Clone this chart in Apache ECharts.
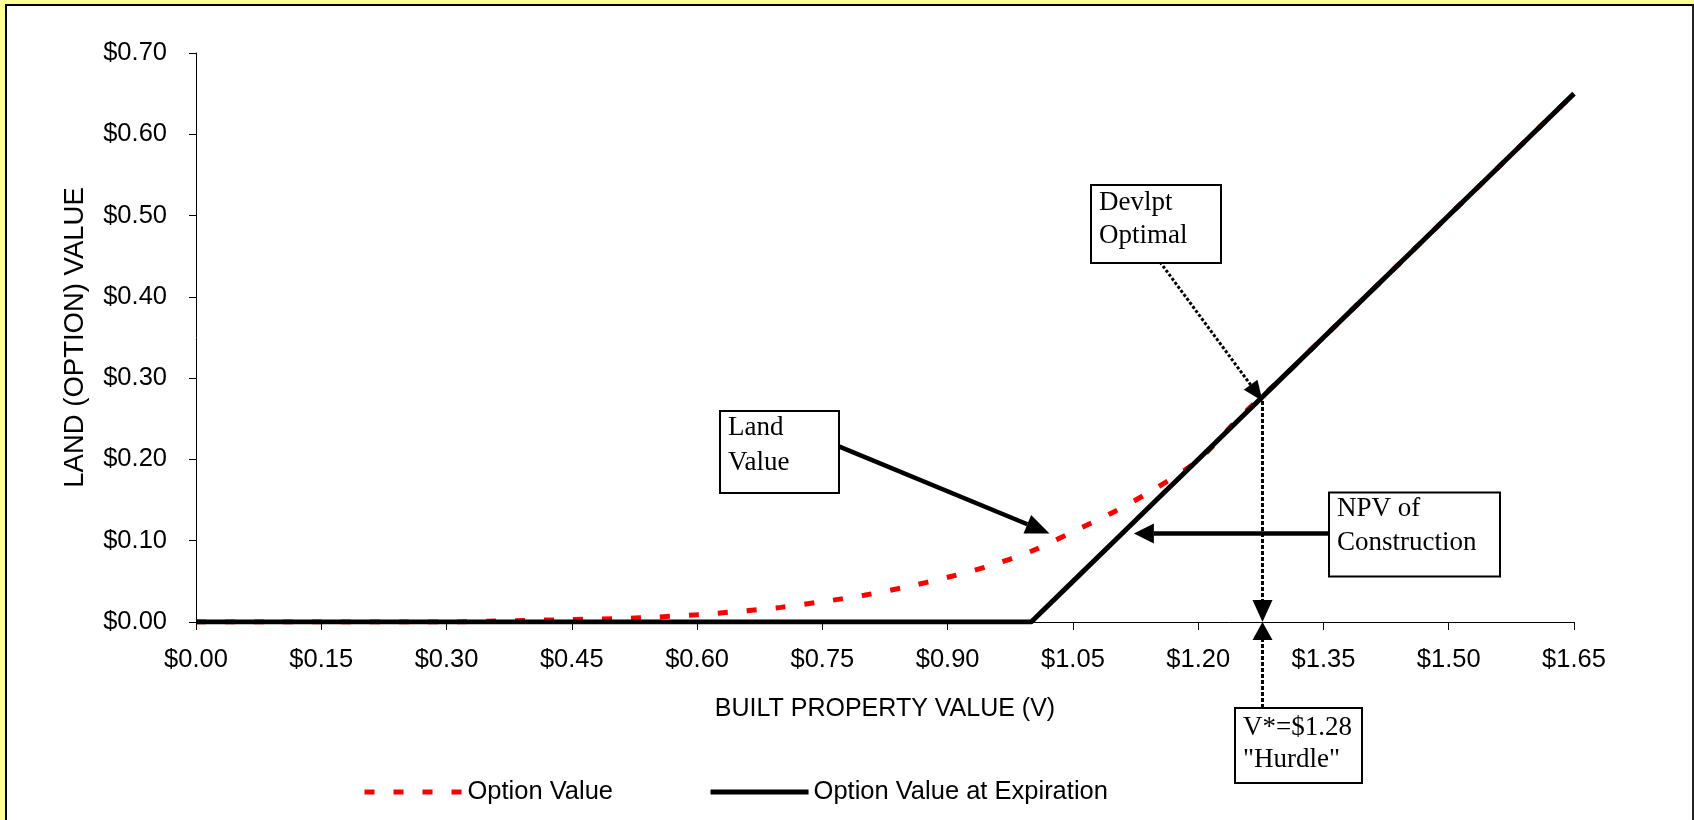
<!DOCTYPE html>
<html>
<head>
<meta charset="utf-8">
<script src="https://cdn.jsdelivr.net/npm/echarts@6/dist/echarts.min.js"></script>
<style>
  html, body { margin: 0; padding: 0; background: #FFFF99; overflow: hidden; }
  #panel { position: absolute; left: 5px; top: 4px; width: 1685px; height: 830px; background: #FFFFFF;
           border-left: 2px solid #000; border-top: 2px solid #000; border-right: 2px solid #222; }
  #c { position: absolute; left: 0; top: 0; width: 1694px; height: 820px; }
</style>
</head>
<body>
<div id="panel"></div>
<div id="c"></div>
<script>
// Built property value V (x axis)
const propertyValues = [0.00, 0.05, 0.10, 0.15, 0.20, 0.25, 0.30, 0.35, 0.40, 0.45, 0.50,
  0.55, 0.60, 0.65, 0.70, 0.75, 0.80, 0.85, 0.90, 0.95, 1.00, 1.05, 1.10, 1.15, 1.20,
  1.25, 1.30, 1.35, 1.40, 1.45, 1.50, 1.55, 1.60, 1.65];
// Option value (red dashed)
const optionValue = [0, 0, 0, 0, 0, 0, 0, 0.001, 0.002, 0.003, 0.004,
  0.006, 0.009, 0.013, 0.018, 0.025, 0.033, 0.043, 0.055, 0.069, 0.087, 0.111, 0.136, 0.165, 0.199,
  0.252, 0.300, 0.350, 0.400, 0.450, 0.500, 0.550, 0.600, 0.650];
// Option value at expiration (black solid)
const expirationValue = [0, 0, 0, 0, 0, 0, 0, 0, 0, 0, 0,
  0, 0, 0, 0, 0, 0, 0, 0, 0, 0, 0.05, 0.10, 0.15, 0.20,
  0.25, 0.30, 0.35, 0.40, 0.45, 0.50, 0.55, 0.60, 0.65];
const seriesNames = ['Option Value', 'Option Value at Expiration'];
const axisTitles = { x: 'BUILT PROPERTY VALUE (V)', y: 'LAND (OPTION) VALUE' };
// Annotation anchors in data coordinates
const hurdleV = 1.277;
const hurdleValue = 0.272;
const landTip = [1.022, 0.109];
const npvTip = [1.123, 0.109];

const SANS = "'Liberation Sans', Arial, sans-serif";
const SERIF = "'Liberation Serif', 'Times New Roman', serif";
const money = v => '$' + v.toFixed(2);

const chart = echarts.init(document.getElementById('c'), null, { renderer: 'canvas' });

const option = {
  backgroundColor: 'transparent',
  animation: false,
  grid: { left: 196, right: 120, top: 53, bottom: 198, containLabel: false },
  legend: {
    data: seriesNames,
    left: 362,
    top: 779,
    padding: 0,
    itemWidth: 98,
    itemHeight: 14,
    itemGap: 95,
    itemStyle: { opacity: 0 },
    lineStyle: { width: 'inherit' },
    textStyle: { fontFamily: SANS, fontSize: 25.5, color: '#000' }
  },
  xAxis: {
    type: 'value', min: 0, max: 1.65, interval: 0.15,
    name: axisTitles.x, nameLocation: 'middle', nameGap: 75,
    nameTextStyle: { fontFamily: SANS, fontSize: 25, color: '#000' },
    axisLine: { show: true, onZero: false, lineStyle: { color: '#000', width: 1 } },
    axisTick: { show: true, length: 8, lineStyle: { color: '#000', width: 1 } },
    axisLabel: { formatter: money, fontFamily: SANS, fontSize: 25.5, color: '#000', margin: 25 },
    splitLine: { show: false }
  },
  yAxis: {
    type: 'value', min: 0, max: 0.7, interval: 0.1,
    name: axisTitles.y, nameLocation: 'middle', nameGap: 107,
    nameTextStyle: { fontFamily: SANS, fontSize: 27.5, color: '#000' },
    axisLine: { show: true, lineStyle: { color: '#000', width: 1 } },
    axisTick: { show: true, length: 7, lineStyle: { color: '#000', width: 1 } },
    axisLabel: { formatter: money, fontFamily: SANS, fontSize: 25.5, color: '#000', margin: 29 },
    splitLine: { show: false }
  },
  series: [
    {
      name: seriesNames[0], type: 'line', showSymbol: false, symbol: 'none', smooth: 0.3,
      data: propertyValues.map((v, i) => [v, optionValue[i]]),
      lineStyle: { color: '#FF0000', width: 5, type: [10, 19], cap: 'butt' },
      itemStyle: { color: '#FF0000' },
      z: 2
    },
    {
      name: seriesNames[1], type: 'line', showSymbol: false, symbol: 'none',
      data: propertyValues.map((v, i) => [v, expirationValue[i]]),
      lineStyle: { color: '#000000', width: 5 },
      itemStyle: { color: '#000000' },
      z: 3
    }
  ]
};
chart.setOption(option);

function arrow(x1, y1, x2, y2, w, dash, headLen, headW) {
  const ang = Math.atan2(y2 - y1, x2 - x1);
  const bx = x2 - headLen * Math.cos(ang), by = y2 - headLen * Math.sin(ang);
  const px = -Math.sin(ang) * headW / 2, py = Math.cos(ang) * headW / 2;
  return [
    { type: 'line', z: 20, shape: { x1: x1, y1: y1, x2: bx, y2: by },
      style: { stroke: '#000', lineWidth: w, lineDash: dash || null } },
    { type: 'polygon', z: 21, shape: { points: [[x2, y2], [bx + px, by + py], [bx - px, by - py]] },
      style: { fill: '#000' } }
  ];
}
function box(x, y, w, h, lines, mids) {
  const els = [{ type: 'rect', z: 22, shape: { x: x, y: y, width: w, height: h },
    style: { fill: '#fff', stroke: '#000', lineWidth: 2 } }];
  lines.forEach((t, i) => els.push({ type: 'text', z: 23,
    style: { text: t, x: x + 8, y: mids[i], font: '27px ' + SERIF, fill: '#000',
             align: 'left', verticalAlign: 'middle' } }));
  return els;
}

const P = p => chart.convertToPixel({ gridIndex: 0 }, p);
const devTip = P([hurdleV, hurdleValue]);
const axisPt = P([hurdleV, 0]);
const landPt = P(landTip);
const npvPt = P(npvTip);

let g = [];
g = g.concat(box(720, 411, 119, 82, ['Land', 'Value'], [428, 463]));
g = g.concat(arrow(837, 445.7, landPt[0], landPt[1], 4.5, null, 24, 20));
g = g.concat(box(1091, 185, 130, 78, ['Devlpt', 'Optimal'], [203, 236]));
g = g.concat(arrow(1160, 262, devTip[0], devTip[1], 3, [3, 2], 20, 17));
g = g.concat(arrow(devTip[0], devTip[1], axisPt[0], axisPt[1], 3, [4, 2], 22, 20));
g = g.concat(arrow(axisPt[0], 708, axisPt[0], axisPt[1], 3, [4, 2], 18, 20));
g = g.concat(box(1329, 492.5, 171, 84, ['NPV of', 'Construction'], [509, 543]));
g = g.concat(arrow(1329, npvPt[1], npvPt[0], npvPt[1], 4.5, null, 20, 20));
g = g.concat(box(1235, 708, 127, 75, ['V*=$1.28', '"Hurdle"'], [728, 760]));

chart.setOption({ graphic: { elements: g } });
</script>
</body>
</html>
